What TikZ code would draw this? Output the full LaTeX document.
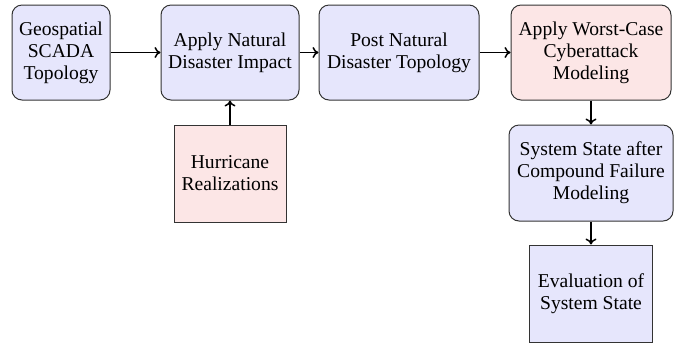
\documentclass[tikz,border=0pt]{standalone}
\usepackage{fontspec}
\setmainfont{Liberation Serif}
\newfontfamily\timesfont{Liberation Serif}
\usetikzlibrary{arrows.meta}
\definecolor{bluefill}{RGB}{230,230,252}
\definecolor{redfill}{RGB}{252,230,230}
\tikzset{
  box/.style={draw=black!80, line width=0.5pt, align=center, inner sep=1pt,
    font=\timesfont\fontsize{9.8}{11}\selectfont},
  rbox/.style={box, rounded corners=5pt},
  bluebox/.style={fill=bluefill},
  redbox/.style={fill=redfill},
  conn/.style={draw, line width=0.75pt, -{To[length=3pt,width=5.5pt]}}
}
\begin{document}
\begin{tikzpicture}[x=0.5pt,y=-0.5pt]
\useasboundingbox (0,0) rectangle (685,345);
\node[rbox,bluebox,minimum width=49pt,minimum height=47.5pt] (geo) at (61,52.5) {Geospatial\\SCADA\\Topology};
\node[rbox,bluebox,minimum width=69pt,minimum height=47.5pt] (apply) at (230,52.5) {Apply Natural\\Disaster Impact};
\node[rbox,bluebox,minimum width=80pt,minimum height=47.5pt] (post) at (399,52.5) {Post Natural\\Disaster Topology};
\node[rbox,redbox,minimum width=80pt,minimum height=47.5pt] (cyber) at (591,52.5) {Apply Worst-Case\\Cyberattack\\Modeling};
\node[box,redbox,minimum width=56pt,minimum height=48.5pt] (hur) at (230,173.5) {Hurricane\\Realizations};
\node[rbox,bluebox,minimum width=82pt,minimum height=48pt] (state) at (591,173) {System State after\\Compound Failure\\Modeling};
\node[box,bluebox,minimum width=61.5pt,minimum height=48.5pt] (eval) at (591,293.5) {Evaluation of\\System State};
\path[conn] (geo) -- (apply);
\path[conn] (apply) -- (post);
\path[conn] (post) -- (cyber);
\path[conn] (hur) -- (apply);
\path[conn] (cyber) -- (state);
\path[conn] (state) -- (eval);
\end{tikzpicture}
\end{document}
